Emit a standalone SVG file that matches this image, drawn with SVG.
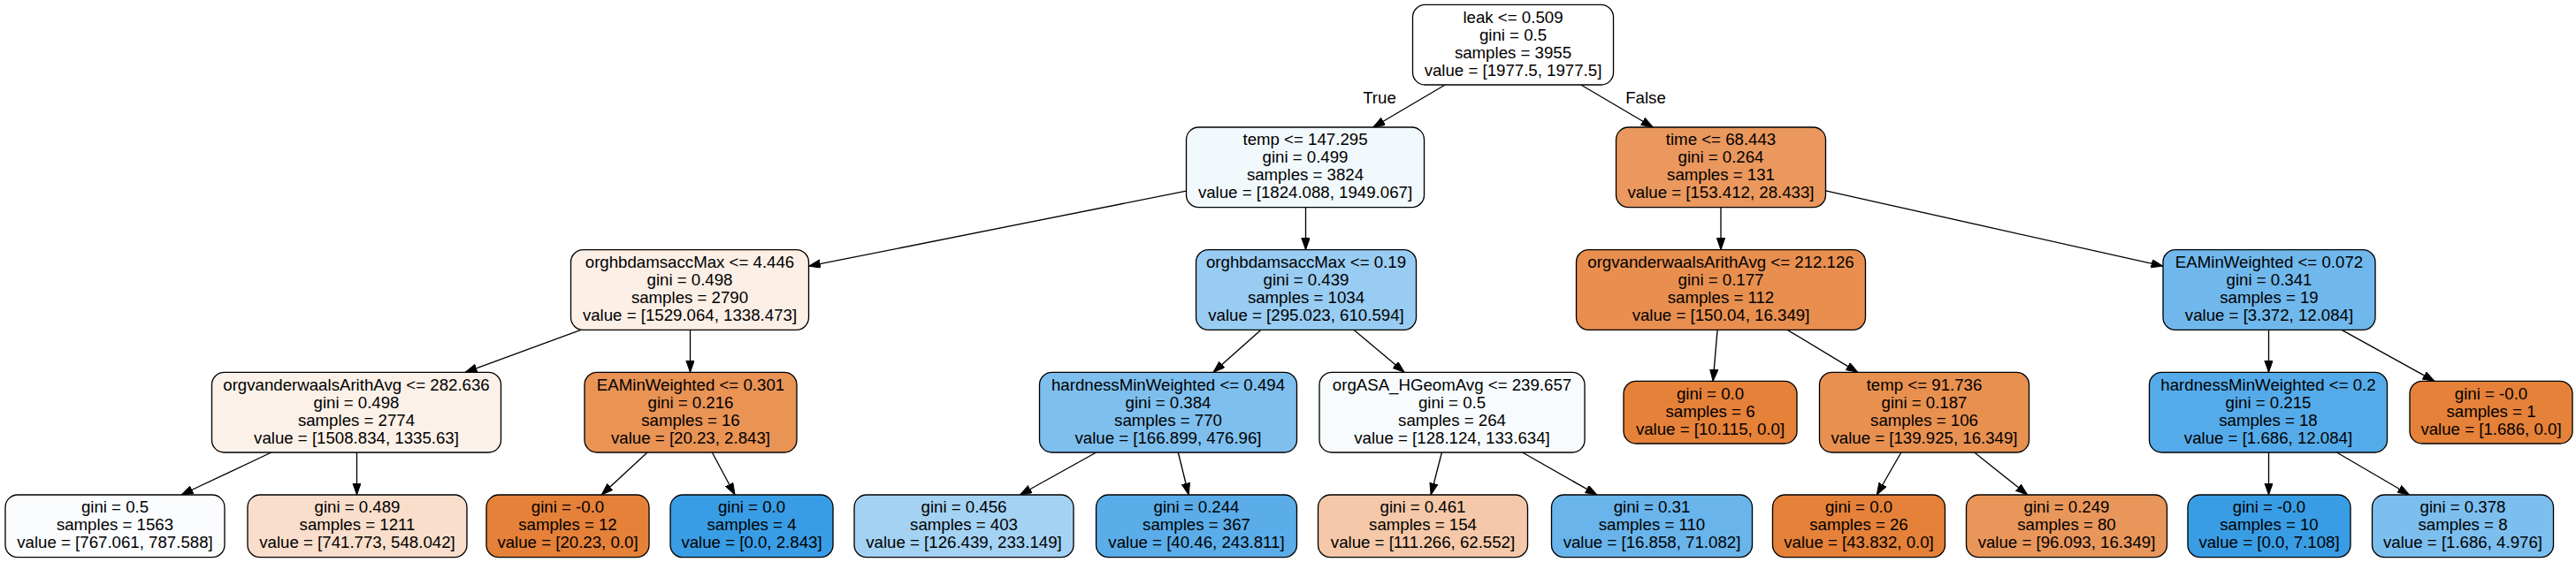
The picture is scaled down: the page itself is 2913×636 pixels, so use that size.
<svg xmlns="http://www.w3.org/2000/svg" width="2913" height="636" viewBox="0 0 2913 636">
<style>
  .n rect { stroke: #000; stroke-width: 1.33; }
  text { font-family: "Liberation Sans", Arial, Helvetica, sans-serif; font-size: 18.67px; fill: #000; text-anchor: middle; }
  .e line { stroke: #000; stroke-width: 1.33; fill: none; marker-end: url(#arr); }
</style>
<defs>
  <marker id="arr" markerUnits="userSpaceOnUse" markerWidth="14" markerHeight="10" refX="13.33" refY="4.67" orient="auto">
    <path d="M0,0 L13.33,4.67 L0,9.33 z" fill="#000" stroke="#000" stroke-width="1"/>
  </marker>
</defs>
<rect x="0" y="0" width="2913" height="636" fill="#fff"/>

<g id="connectors" class="e">
  <line x1="1634.2" y1="96" x2="1552.8" y2="144"/>
  <line x1="1787.8" y1="96" x2="1869.2" y2="144"/>
  <line x1="1341.5" y1="216.1" x2="914.5" y2="301.2"/>
  <line x1="1476.5" y1="234.67" x2="1476.5" y2="282.67"/>
  <line x1="1946" y1="234.67" x2="1946" y2="282.67"/>
  <line x1="2064.5" y1="215.8" x2="2446" y2="301.2"/>
  <line x1="656.8" y1="373.33" x2="526.2" y2="421.33"/>
  <line x1="780.5" y1="373.33" x2="780.5" y2="421.33"/>
  <line x1="1426" y1="373.33" x2="1372" y2="421.33"/>
  <line x1="1530.9" y1="373.33" x2="1588.1" y2="421.33"/>
  <line x1="1942.1" y1="373.33" x2="1937.1" y2="431.33"/>
  <line x1="2021.2" y1="373.33" x2="2100.8" y2="421.33"/>
  <line x1="2565.5" y1="373.33" x2="2565.5" y2="421.33"/>
  <line x1="2648.1" y1="373.33" x2="2753" y2="431.33"/>
  <line x1="306.8" y1="512" x2="205" y2="560"/>
  <line x1="403.5" y1="512" x2="403.5" y2="560"/>
  <line x1="732" y1="512" x2="680.2" y2="560"/>
  <line x1="805.3" y1="512" x2="831" y2="560"/>
  <line x1="1239.6" y1="512" x2="1153.4" y2="560"/>
  <line x1="1332.3" y1="512" x2="1344.2" y2="560"/>
  <line x1="1630.4" y1="512" x2="1618.1" y2="560"/>
  <line x1="1721.6" y1="512" x2="1805.9" y2="560"/>
  <line x1="2149.9" y1="512" x2="2122.3" y2="560"/>
  <line x1="2232.7" y1="512" x2="2292.8" y2="560"/>
  <line x1="2565.5" y1="512" x2="2565.5" y2="560"/>
  <line x1="2642.5" y1="512" x2="2724.6" y2="560"/>
  <text x="1560" y="116.5">True</text>
  <text x="1861" y="116.5">False</text>
</g>

<g id="node0" class="n"><rect x="1597.5" y="5.33" width="227" height="90.67" rx="14" fill="#ffffff"/>
<text x="1711"><tspan x="1711" y="25.6">leak &lt;= 0.509</tspan><tspan x="1711" y="45.6">gini = 0.5</tspan><tspan x="1711" y="65.6">samples = 3955</tspan><tspan x="1711" y="85.6">value = [1977.5, 1977.5]</tspan></text></g>

<g id="node1" class="n"><rect x="1341.5" y="144" width="269" height="90.67" rx="14" fill="#f2f9fd"/>
<text x="1476"><tspan x="1476" y="164.27">temp &lt;= 147.295</tspan><tspan x="1476" y="184.27">gini = 0.499</tspan><tspan x="1476" y="204.27">samples = 3824</tspan><tspan x="1476" y="224.27">value = [1824.088, 1949.067]</tspan></text></g>

<g id="node2" class="n"><rect x="1827.5" y="144" width="237" height="90.67" rx="14" fill="#ea985e"/>
<text x="1946"><tspan x="1946" y="164.27">time &lt;= 68.443</tspan><tspan x="1946" y="184.27">gini = 0.264</tspan><tspan x="1946" y="204.27">samples = 131</tspan><tspan x="1946" y="224.27">value = [153.412, 28.433]</tspan></text></g>

<g id="node3" class="n"><rect x="645.5" y="282.67" width="269" height="90.67" rx="14" fill="#fcefe6"/>
<text x="780"><tspan x="780" y="302.93">orghbdamsaccMax &lt;= 4.446</tspan><tspan x="780" y="322.93">gini = 0.498</tspan><tspan x="780" y="342.93">samples = 2790</tspan><tspan x="780" y="362.93">value = [1529.064, 1338.473]</tspan></text></g>

<g id="node4" class="n"><rect x="1352.5" y="282.67" width="249" height="90.67" rx="14" fill="#99ccf2"/>
<text x="1477"><tspan x="1477" y="302.93">orghbdamsaccMax &lt;= 0.19</tspan><tspan x="1477" y="322.93">gini = 0.439</tspan><tspan x="1477" y="342.93">samples = 1034</tspan><tspan x="1477" y="362.93">value = [295.023, 610.594]</tspan></text></g>

<g id="node5" class="n"><rect x="1782.5" y="282.67" width="327" height="90.67" rx="14" fill="#e88f4f"/>
<text x="1946"><tspan x="1946" y="302.93">orgvanderwaalsArithAvg &lt;= 212.126</tspan><tspan x="1946" y="322.93">gini = 0.177</tspan><tspan x="1946" y="342.93">samples = 112</tspan><tspan x="1946" y="362.93">value = [150.04, 16.349]</tspan></text></g>

<g id="node6" class="n"><rect x="2446" y="282.67" width="240" height="90.67" rx="14" fill="#70b8ec"/>
<text x="2566"><tspan x="2566" y="302.93">EAMinWeighted &lt;= 0.072</tspan><tspan x="2566" y="322.93">gini = 0.341</tspan><tspan x="2566" y="342.93">samples = 19</tspan><tspan x="2566" y="362.93">value = [3.372, 12.084]</tspan></text></g>

<g id="node7" class="n"><rect x="239.5" y="421.33" width="327" height="90.67" rx="14" fill="#fcf1e8"/>
<text x="403"><tspan x="403" y="441.6">orgvanderwaalsArithAvg &lt;= 282.636</tspan><tspan x="403" y="461.6">gini = 0.498</tspan><tspan x="403" y="481.6">samples = 2774</tspan><tspan x="403" y="501.6">value = [1508.834, 1335.63]</tspan></text></g>

<g id="node8" class="n"><rect x="661" y="421.33" width="240" height="90.67" rx="14" fill="#e99355"/>
<text x="781"><tspan x="781" y="441.6">EAMinWeighted &lt;= 0.301</tspan><tspan x="781" y="461.6">gini = 0.216</tspan><tspan x="781" y="481.6">samples = 16</tspan><tspan x="781" y="501.6">value = [20.23, 2.843]</tspan></text></g>

<g id="node9" class="n"><rect x="1175.5" y="421.33" width="291" height="90.67" rx="14" fill="#7ebfee"/>
<text x="1321"><tspan x="1321" y="441.6">hardnessMinWeighted &lt;= 0.494</tspan><tspan x="1321" y="461.6">gini = 0.384</tspan><tspan x="1321" y="481.6">samples = 770</tspan><tspan x="1321" y="501.6">value = [166.899, 476.96]</tspan></text></g>

<g id="node10" class="n"><rect x="1492" y="421.33" width="300" height="90.67" rx="14" fill="#f7fbfe"/>
<text x="1642"><tspan x="1642" y="441.6">orgASA_HGeomAvg &lt;= 239.657</tspan><tspan x="1642" y="461.6">gini = 0.5</tspan><tspan x="1642" y="481.6">samples = 264</tspan><tspan x="1642" y="501.6">value = [128.124, 133.634]</tspan></text></g>

<g id="node11" class="n"><rect x="1836" y="431.33" width="196" height="70.67" rx="14" fill="#e58139"/>
<text x="1934"><tspan x="1934" y="451.6">gini = 0.0</tspan><tspan x="1934" y="471.6">samples = 6</tspan><tspan x="1934" y="491.6">value = [10.115, 0.0]</tspan></text></g>

<g id="node12" class="n"><rect x="2057.5" y="421.33" width="237" height="90.67" rx="14" fill="#e89050"/>
<text x="2176"><tspan x="2176" y="441.6">temp &lt;= 91.736</tspan><tspan x="2176" y="461.6">gini = 0.187</tspan><tspan x="2176" y="481.6">samples = 106</tspan><tspan x="2176" y="501.6">value = [139.925, 16.349]</tspan></text></g>

<g id="node13" class="n"><rect x="2430.5" y="421.33" width="269" height="90.67" rx="14" fill="#55abe9"/>
<text x="2565"><tspan x="2565" y="441.6">hardnessMinWeighted &lt;= 0.2</tspan><tspan x="2565" y="461.6">gini = 0.215</tspan><tspan x="2565" y="481.6">samples = 18</tspan><tspan x="2565" y="501.6">value = [1.686, 12.084]</tspan></text></g>

<g id="node14" class="n"><rect x="2725" y="431.33" width="184" height="70.67" rx="14" fill="#e58139"/>
<text x="2817"><tspan x="2817" y="451.6">gini = -0.0</tspan><tspan x="2817" y="471.6">samples = 1</tspan><tspan x="2817" y="491.6">value = [1.686, 0.0]</tspan></text></g>

<g id="node15" class="n"><rect x="6" y="560" width="248" height="70.67" rx="14" fill="#fafcfe"/>
<text x="130"><tspan x="130" y="580.27">gini = 0.5</tspan><tspan x="130" y="600.27">samples = 1563</tspan><tspan x="130" y="620.27">value = [767.061, 787.588]</tspan></text></g>

<g id="node16" class="n"><rect x="280" y="560" width="248" height="70.67" rx="14" fill="#f8decb"/>
<text x="404"><tspan x="404" y="580.27">gini = 0.489</tspan><tspan x="404" y="600.27">samples = 1211</tspan><tspan x="404" y="620.27">value = [741.773, 548.042]</tspan></text></g>

<g id="node17" class="n"><rect x="550" y="560" width="184" height="70.67" rx="14" fill="#e58139"/>
<text x="642"><tspan x="642" y="580.27">gini = -0.0</tspan><tspan x="642" y="600.27">samples = 12</tspan><tspan x="642" y="620.27">value = [20.23, 0.0]</tspan></text></g>

<g id="node18" class="n"><rect x="758" y="560" width="184" height="70.67" rx="14" fill="#399de5"/>
<text x="850"><tspan x="850" y="580.27">gini = 0.0</tspan><tspan x="850" y="600.27">samples = 4</tspan><tspan x="850" y="620.27">value = [0.0, 2.843]</tspan></text></g>

<g id="node19" class="n"><rect x="966" y="560" width="248" height="70.67" rx="14" fill="#a4d2f3"/>
<text x="1090"><tspan x="1090" y="580.27">gini = 0.456</tspan><tspan x="1090" y="600.27">samples = 403</tspan><tspan x="1090" y="620.27">value = [126.439, 233.149]</tspan></text></g>

<g id="node20" class="n"><rect x="1239.5" y="560" width="227" height="70.67" rx="14" fill="#5aade9"/>
<text x="1353"><tspan x="1353" y="580.27">gini = 0.244</tspan><tspan x="1353" y="600.27">samples = 367</tspan><tspan x="1353" y="620.27">value = [40.46, 243.811]</tspan></text></g>

<g id="node21" class="n"><rect x="1490.5" y="560" width="237" height="70.67" rx="14" fill="#f4c8a8"/>
<text x="1609"><tspan x="1609" y="580.27">gini = 0.461</tspan><tspan x="1609" y="600.27">samples = 154</tspan><tspan x="1609" y="620.27">value = [111.266, 62.552]</tspan></text></g>

<g id="node22" class="n"><rect x="1754.5" y="560" width="227" height="70.67" rx="14" fill="#68b4eb"/>
<text x="1868"><tspan x="1868" y="580.27">gini = 0.31</tspan><tspan x="1868" y="600.27">samples = 110</tspan><tspan x="1868" y="620.27">value = [16.858, 71.082]</tspan></text></g>

<g id="node23" class="n"><rect x="2004.5" y="560" width="195" height="70.67" rx="14" fill="#e58139"/>
<text x="2102"><tspan x="2102" y="580.27">gini = 0.0</tspan><tspan x="2102" y="600.27">samples = 26</tspan><tspan x="2102" y="620.27">value = [43.832, 0.0]</tspan></text></g>

<g id="node24" class="n"><rect x="2223.5" y="560" width="227" height="70.67" rx="14" fill="#e9965b"/>
<text x="2337"><tspan x="2337" y="580.27">gini = 0.249</tspan><tspan x="2337" y="600.27">samples = 80</tspan><tspan x="2337" y="620.27">value = [96.093, 16.349]</tspan></text></g>

<g id="node25" class="n"><rect x="2474" y="560" width="184" height="70.67" rx="14" fill="#399de5"/>
<text x="2566"><tspan x="2566" y="580.27">gini = -0.0</tspan><tspan x="2566" y="600.27">samples = 10</tspan><tspan x="2566" y="620.27">value = [0.0, 7.108]</tspan></text></g>

<g id="node26" class="n"><rect x="2682.5" y="560" width="205" height="70.67" rx="14" fill="#7cbeee"/>
<text x="2785"><tspan x="2785" y="580.27">gini = 0.378</tspan><tspan x="2785" y="600.27">samples = 8</tspan><tspan x="2785" y="620.27">value = [1.686, 4.976]</tspan></text></g>
</svg>
